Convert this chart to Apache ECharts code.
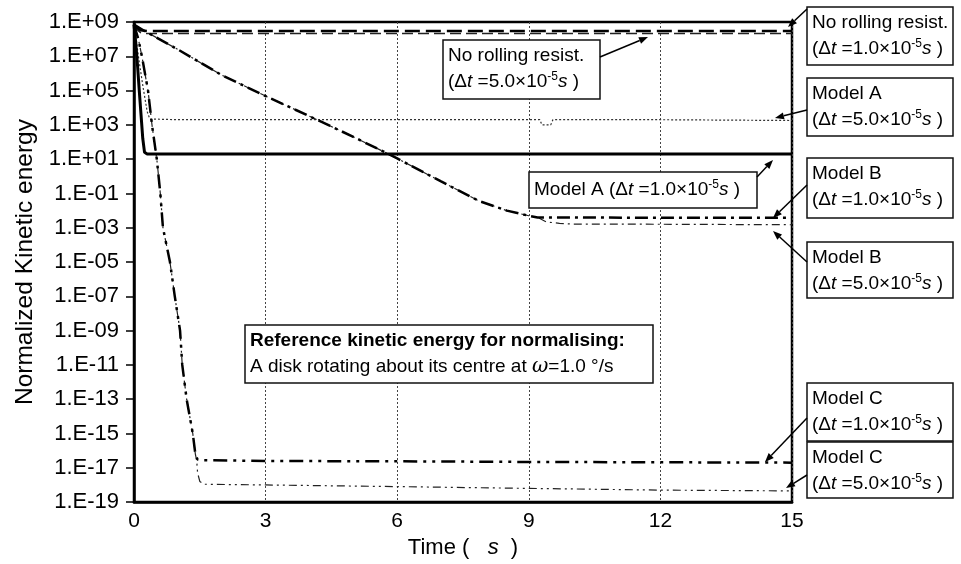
<!DOCTYPE html>
<html><head><meta charset="utf-8">
<script src="https://cdn.jsdelivr.net/npm/echarts@6/dist/echarts.min.js"></script>
<style>html,body{margin:0;padding:0;background:#fff}#chart{width:961px;height:564px}</style>
</head><body><div id="chart"></div>
<script>
// ---- data ----
const xTicks = [0, 3, 6, 9, 12, 15];
const yMin = 1e-19, yMax = 1e9;

const tNoRoll1 = [0, 0.05, 0.15, 0.3, 3, 6, 9, 12, 15];
const vNoRoll1 = [7e8, 5e8, 3.3e8, 3e8, 3e8, 3e8, 3e8, 3e8, 3e8];
const tNoRoll5 = [0, 0.05, 0.15, 0.3, 3, 6, 9, 12, 15];
const vNoRoll5 = [7e8, 4e8, 2.4e8, 2.1e8, 2.1e8, 2.1e8, 2.1e8, 2.1e8, 2.1e8];

const tModelA1 = [0, 0.04, 0.08, 0.12, 0.16, 0.2, 0.24, 0.3, 1, 3, 6, 9, 12, 15];
const vModelA1 = [7e8, 6e7, 3e6, 1e5, 4e3, 1.6e2, 25, 20, 20, 20, 20, 20, 20, 20];
const tModelA5 = [0, 0.05, 0.1, 0.2, 0.3, 0.36, 1, 3, 6, 9, 9.25, 9.3, 9.5, 9.55, 12, 15];
const vModelA5 = [7e8, 1e8, 1e7, 2e5, 6e3, 2.2e3, 2e3, 2e3, 2e3, 2e3, 2e3, 1e3, 1e3, 2e3, 2e3, 1.8e3];

const tModelB1 = [0, 0.25, 1, 2, 3, 4, 5, 5.8, 6, 7, 7.86, 8.5, 9, 9.2, 10, 12, 15];
const vModelB1 = [7e8, 2.9e8, 2.5e7, 8e5, 4.8e4, 3.2e3, 2e2, 20, 11, 0.5, 3.7e-2, 1e-2, 5e-3, 4e-3, 4e-3, 3.8e-3, 3.8e-3];
const tModelB5 = [0, 0.25, 1, 2, 3, 4, 5, 5.8, 6, 7, 7.86, 8.5, 9, 9.2, 9.4, 9.7, 10, 12, 15];
const vModelB5 = [7e8, 2.9e8, 2.5e7, 8e5, 4.8e4, 3.2e3, 2e2, 20, 11, 0.5, 3.7e-2, 1e-2, 5e-3, 4e-3, 2.2e-3, 1.8e-3, 1.65e-3, 1.6e-3, 1.5e-3];

const tModelC1 = [0, 0.1, 0.18, 0.32, 0.41, 0.52, 0.6, 0.66, 0.82, 0.93, 1.05, 1.1, 1.2, 1.34, 1.4, 1.45, 1.56, 3, 6, 9, 12, 15];
const vModelC1 = [7e8, 1e8, 1e7, 1e5, 1e3, 10, 1e-1, 1e-3, 1e-5, 1e-7, 1e-9, 1e-11, 1e-13, 1e-15, 6e-17, 3e-17, 2.8e-17, 2.5e-17, 2.4e-17, 2.2e-17, 2.1e-17, 2e-17];
const tModelC5 = [0, 0.1, 0.18, 0.32, 0.41, 0.52, 0.6, 0.66, 0.82, 0.93, 1.05, 1.1, 1.2, 1.34, 1.4, 1.43, 1.45, 1.5, 1.6, 3, 6, 9, 12, 15];
const vModelC5 = [7e8, 1e8, 1e7, 1e5, 1e3, 10, 1e-1, 1e-3, 1e-5, 1e-7, 1e-9, 1e-11, 1e-13, 1e-15, 6e-17, 2.5e-17, 5e-18, 1.6e-18, 1.1e-18, 1e-18, 8e-19, 6.3e-19, 5e-19, 4.5e-19];

// ---- helpers ----
const FONT = 'Liberation Sans, Arial, sans-serif';
const zip = (t, v) => t.map((x, i) => [x, v[i]]);

function mkSeries(name, t, v, width, type, color, z) {
  return {
    name, type: 'line', data: zip(t, v), showSymbol: false, symbol: 'none',
    lineStyle: { color: color, width: width, type: type },
    z: z, animation: false
  };
}

const chart = echarts.init(document.getElementById('chart'));
chart.setOption({
  animation: false,
  backgroundColor: '#fff',
  grid: { left: 134, right: 169, top: 22, bottom: 60, show: true, borderColor: '#000', borderWidth: 2.5, backgroundColor: 'transparent' },
  xAxis: {
    type: 'value', min: xTicks[0], max: xTicks[xTicks.length - 1], interval: 3,
    axisLine: { show: true, onZero: false, lineStyle: { color: '#000', width: 2.5 } },
    axisTick: { show: false },
    axisLabel: { fontSize: 21, color: '#000', fontFamily: FONT, margin: 9 },
    splitLine: { show: true, lineStyle: { type: [2, 2], color: '#444', width: 1 } },
    name: '{n|Time (}{i|   s  }{n|)}', nameLocation: 'middle', nameGap: 34,
    nameTextStyle: { rich: { n: { fontSize: 22, fontFamily: FONT, color: '#000' }, i: { fontSize: 22, fontFamily: FONT, fontStyle: 'italic', color: '#000' } } }
  },
  yAxis: {
    type: 'log', logBase: 10, min: yMin, max: yMax, interval: 2,
    axisLine: { show: true, onZero: false, lineStyle: { color: '#000', width: 2.5 } },
    axisTick: { show: true, inside: false, length: 8, lineStyle: { color: '#000', width: 1.5 } },
    axisLabel: {
      fontSize: 22, color: '#000', fontFamily: FONT, margin: 15,
      formatter: v => { const e = Math.round(Math.log10(v)); return '1.E' + (e < 0 ? '-' : '+') + String(Math.abs(e)).padStart(2, '0'); }
    },
    splitLine: { show: false },
    name: 'Normalized Kinetic energy', nameLocation: 'middle', nameGap: 96,
    nameTextStyle: { fontSize: 24.5, fontFamily: FONT, color: '#000' }
  },
  series: [
    mkSeries('No rolling resist. 1.0e-5', tNoRoll1, vNoRoll1, 2.5, [15, 6], '#000', 3),
    mkSeries('No rolling resist. 5.0e-5', tNoRoll5, vNoRoll5, 1.5, [11, 5], '#222', 2),
    mkSeries('Model A 1.0e-5', tModelA1, vModelA1, 3, 'solid', '#000', 4),
    mkSeries('Model A 5.0e-5', tModelA5, vModelA5, 1.2, [2, 2], '#333', 2),
    mkSeries('Model B 1.0e-5', tModelB1, vModelB1, 2.5, [13, 5, 3, 5], '#000', 3),
    mkSeries('Model B 5.0e-5', tModelB5, vModelB5, 1.2, [8, 4, 2, 4], '#222', 2),
    mkSeries('Model C 1.0e-5', tModelC1, vModelC1, 2.5, [14, 6, 3, 6, 3, 6], '#000', 3),
    mkSeries('Model C 5.0e-5', tModelC5, vModelC5, 1.2, [8, 4, 2, 4, 2, 4], '#222', 2)
  ]
});

// ---- annotations ----
const richBase = {
  n: { fontSize: 19, fontFamily: FONT, fill: '#000' },
  i: { fontSize: 19, fontFamily: FONT, fontStyle: 'italic', fill: '#000' },
  b: { fontSize: 19, fontFamily: FONT, fontWeight: 'bold', fill: '#000' },
  w: { fontSize: 20, fontFamily: 'DejaVu Serif, serif', fontStyle: 'italic', fill: '#000' },
  sup: { fontSize: 12, fontFamily: FONT, fill: '#000', padding: [0, 0, 11, 0] }
};
const dt = val => '{n|(Δ}{i|t}{n| =' + val + '×10}{sup|-5}{i|s}{n| )}';
const boxes = [
  { x: 807, y: 7, w: 146, h: 58, lines: ['{n|No rolling resist.}', dt('1.0')] },
  { x: 443, y: 40, w: 157, h: 59, lines: ['{n|No rolling resist.}', dt('5.0')] },
  { x: 807, y: 78, w: 146, h: 58, lines: ['{n|Model A}', dt('5.0')] },
  { x: 529, y: 172, w: 228, h: 36, lines: ['{n|Model A }' + dt('1.0')] },
  { x: 807, y: 158, w: 146, h: 60, lines: ['{n|Model B}', dt('1.0')] },
  { x: 807, y: 242, w: 146, h: 56, lines: ['{n|Model B}', dt('5.0')] },
  { x: 807, y: 383, w: 146, h: 58, lines: ['{n|Model C}', dt('1.0')] },
  { x: 807, y: 442, w: 146, h: 56, lines: ['{n|Model C}', dt('5.0')] },
  { x: 245, y: 325, w: 408, h: 58, lines: ['{b|Reference kinetic energy for normalising:}', '{n|A disk rotating about its centre at }{w|ω}{n|=1.0 °/s}'] }
];
const arrows = [
  [807, 9, 788, 27], [600, 57, 648, 37], [807, 110, 775, 118], [757, 177, 773, 160],
  [807, 185, 773, 218], [807, 262, 773, 231], [807, 418, 765, 462], [807, 475, 786, 488]
];
const els = [];
boxes.forEach(b => {
  els.push({ type: 'rect', shape: { x: b.x, y: b.y, width: b.w, height: b.h }, style: { fill: '#fff', stroke: '#111', lineWidth: 1.5 }, z: 100 });
  const ys = b.lines.length === 1 ? [b.h / 2] : [16, 42];
  b.lines.forEach((ln, k) => {
    els.push({ type: 'text', x: b.x + 5, y: b.y + ys[k], style: { text: ln, rich: richBase, verticalAlign: 'middle', align: 'left', fill: '#000' }, z: 101 });
  });
});
arrows.forEach(a => {
  const [x1, y1, x2, y2] = a;
  const dx = x2 - x1, dy = y2 - y1, L = Math.hypot(dx, dy), ux = dx / L, uy = dy / L;
  const hl = 9, hw = 3.5;
  const bx = x2 - ux * hl, by = y2 - uy * hl;
  els.push({ type: 'line', shape: { x1, y1, x2: bx, y2: by }, style: { stroke: '#000', lineWidth: 1.5 }, z: 102 });
  els.push({ type: 'polygon', shape: { points: [[x2, y2], [bx - uy * hw, by + ux * hw], [bx + uy * hw, by - ux * hw]] }, style: { fill: '#000' }, z: 102 });
});
chart.setOption({ graphic: { elements: els } });
</script>
</body></html>
